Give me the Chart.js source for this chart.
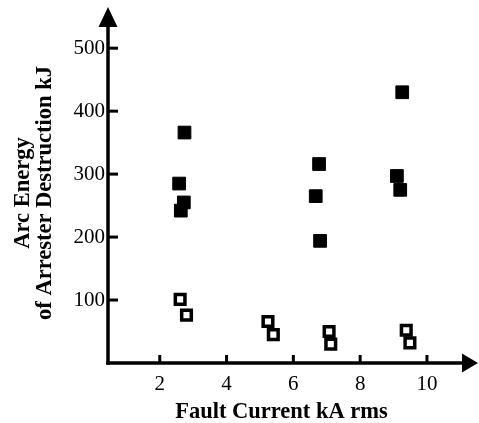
<!DOCTYPE html>
<html><head><meta charset="utf-8">
<script src="https://cdn.jsdelivr.net/npm/chart.js@4"></script>
<style>html,body{margin:0;padding:0;background:#fff;overflow:hidden;} canvas{display:block;}</style>
</head><body>
<canvas id="c" width="479" height="423"></canvas>
<script>
// Data
const xTickValues = [2, 4, 6, 8, 10];
const yTickValues = [100, 200, 300, 400, 500];
const filledX = [2.74, 2.58, 2.72, 2.63, 6.77, 6.67, 6.80, 9.26, 9.10, 9.20];
const filledY = [366, 285, 255, 242, 316, 265, 194, 430, 297, 275];
const hollowX = [2.61, 2.80, 5.24, 5.40, 7.07, 7.12, 9.38, 9.49];
const hollowY = [101, 76, 66, 45, 50, 30, 52, 32];

const xTitle = 'Fault Current kA rms';
const yTitle = ['Arc Energy', 'of Arrester Destruction kJ'];

const FONT = "'Liberation Serif', 'Times New Roman', serif";

const axesPlugin = {
  id: 'arrowAxes',
  beforeDatasetsDraw(chart) {
    const ctx = chart.ctx;
    const ca = chart.chartArea;
    const xs = chart.scales.x, ys = chart.scales.y;
    const x0 = ca.left, y0 = ca.bottom;
    const tipY = ca.top - 16, tipX = ca.right + 23;
    ctx.save();
    ctx.strokeStyle = '#000';
    ctx.fillStyle = '#000';
    ctx.lineWidth = 3.5;
    ctx.lineCap = 'butt';
    // y axis line
    ctx.beginPath();
    ctx.moveTo(x0, y0 + 1.75);
    ctx.lineTo(x0, tipY + 15);
    ctx.stroke();
    // x axis line
    ctx.beginPath();
    ctx.moveTo(x0 - 1.75, y0);
    ctx.lineTo(tipX - 12, y0);
    ctx.stroke();
    // arrows
    ctx.beginPath();
    ctx.moveTo(x0, tipY);
    ctx.lineTo(x0 - 9.5, tipY + 20);
    ctx.lineTo(x0 + 9.5, tipY + 20);
    ctx.closePath();
    ctx.fill();
    ctx.beginPath();
    ctx.moveTo(tipX, y0);
    ctx.lineTo(tipX - 16, y0 - 9.5);
    ctx.lineTo(tipX - 16, y0 + 9.5);
    ctx.closePath();
    ctx.fill();
    // tick marks (inside)
    ctx.lineWidth = 3;
    xTickValues.forEach(v => {
      const px = xs.getPixelForValue(v);
      ctx.beginPath();
      ctx.moveTo(px, y0);
      ctx.lineTo(px, y0 - 8);
      ctx.stroke();
    });
    yTickValues.forEach(v => {
      const py = ys.getPixelForValue(v);
      ctx.beginPath();
      ctx.moveTo(x0, py);
      ctx.lineTo(x0 + 10, py);
      ctx.stroke();
    });
    ctx.restore();
  }
};

new Chart(document.getElementById('c'), {
  type: 'scatter',
  data: {
    datasets: [
      {
        label: 'filled',
        data: filledX.map((x, i) => ({ x: x, y: filledY[i] })),
        pointStyle: 'rect',
        pointRadius: 9,
        backgroundColor: '#000',
        borderColor: '#000',
        borderWidth: 1
      },
      {
        label: 'hollow',
        data: hollowX.map((x, i) => ({ x: x, y: hollowY[i] })),
        pointStyle: 'rect',
        pointRadius: 6.8,
        backgroundColor: '#fff',
        borderColor: '#000',
        borderWidth: 3.5
      }
    ]
  },
  options: {
    responsive: false,
    devicePixelRatio: 1,
    animation: false,
    layout: { padding: { left: 0, right: 24, top: 23, bottom: 0 } },
    plugins: { legend: { display: false }, tooltip: { enabled: false } },
    scales: {
      x: {
        type: 'linear',
        min: 0.45,
        max: 10.84,
        grid: { display: false, drawTicks: false },
        border: { display: false },
        afterFit: s => { s.height = 60; },
        afterBuildTicks: s => { s.ticks = xTickValues.map(v => ({ value: v })); },
        ticks: {
          autoSkip: false, maxRotation: 0, padding: 9,
          color: '#000',
          font: { family: FONT, size: 21 }
        },
        title: {
          display: true, text: xTitle, color: '#000',
          font: { family: FONT, size: 22.5, weight: 'bold', lineHeight: 1.0 },
          padding: { top: 0, bottom: 0 }
        }
      },
      y: {
        type: 'linear',
        min: 0,
        max: 540,
        grid: { display: false, drawTicks: false },
        border: { display: false },
        afterFit: s => { s.width = 108; },
        afterBuildTicks: s => { s.ticks = yTickValues.map(v => ({ value: v })); },
        ticks: {
          autoSkip: false, padding: 3,
          color: '#000',
          font: { family: FONT, size: 21 }
        },
        title: {
          display: true, text: yTitle, color: '#000',
          font: { family: FONT, size: 22.5, weight: 'bold', lineHeight: 0.98 },
          padding: { top: 12, bottom: 0 }
        }
      }
    }
  },
  plugins: [axesPlugin]
});
</script>
</body></html>
